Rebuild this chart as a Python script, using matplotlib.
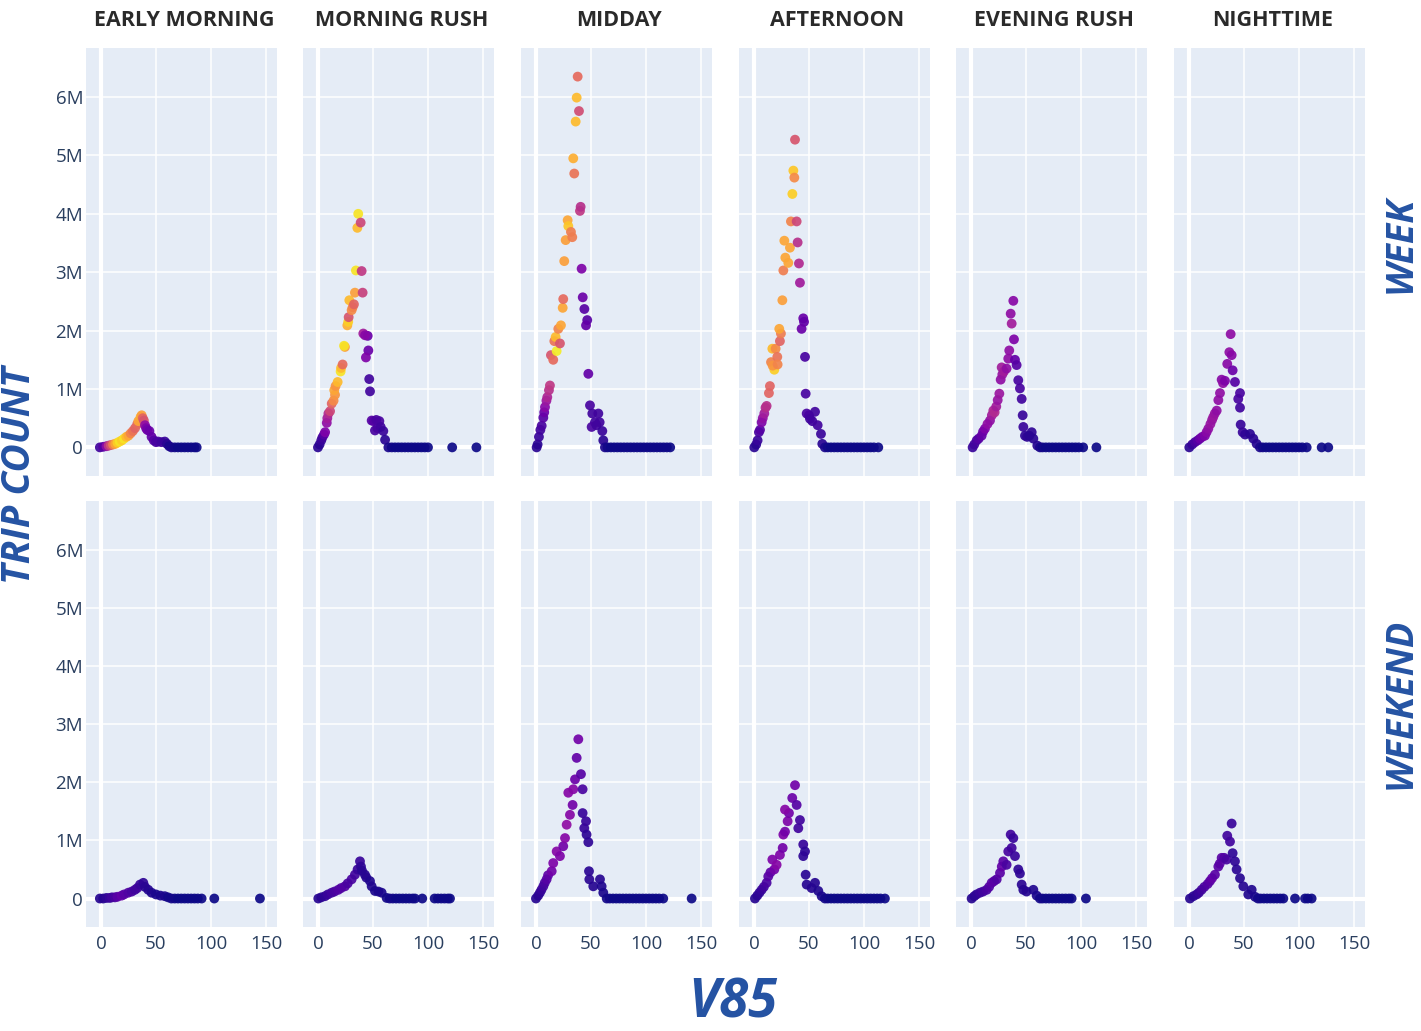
import matplotlib
matplotlib.use("Agg")
import matplotlib.pyplot as plt

PERIODS = ["EARLY MORNING", "MORNING RUSH", "MIDDAY", "AFTERNOON", "EVENING RUSH", "NIGHTTIME"]
DAY_TYPES = ["WEEK", "WEEKEND"]
X_TICKS = [0, 50, 100, 150]
Y_TICKS = [0, 1, 2, 3, 4, 5, 6]
Y_TICK_LABELS = ["0", "1M", "2M", "3M", "4M", "5M", "6M"]

# ---------------- WEEK ----------------
WEEK_EARLY_V85 = [-1, 2, 5, 7, 9, 11, 13, 15, 17, 19, 21, 23, 25, 27, 29, 31, 33, 34, 36, 37, 38, 39, 40, 41, 42, 44, 46, 48, 50, 52, 55, 58, 60, 62,
                  64, 67, 70, 73, 76, 79, 82, 85, 87]
WEEK_EARLY_COUNT = [0, 0.01, 0.02, 0.03, 0.04, 0.05, 0.06, 0.08, 0.1, 0.12, 0.15, 0.18, 0.2, 0.24, 0.28, 0.33, 0.4, 0.45, 0.52, 0.55, 0.5, 0.46, 0.38, 0.33, 0.3, 0.28, 0.18, 0.12, 0.09, 0.1, 0.09, 0.1, 0.06, 0.02,
                    0, 0, 0, 0, 0, 0, 0, 0, 0]
WEEK_EARLY_SHADE = [0.1, 0.15, 0.3, 0.45, 0.55, 0.7, 0.8, 0.9, 0.95, 0.9, 0.95, 0.85, 0.8, 0.7, 0.65, 0.6, 0.62, 0.8, 0.82, 0.78, 0.6, 0.55, 0.3, 0.25, 0.22, 0.2, 0.18, 0.15, 0.12, 0.12, 0.1, 0.08, 0.05, 0.02,
                    0.02, 0.01, 0, 0, 0, 0, 0, 0, 0]

WEEK_MORNING_V85 = [0, 1.5, 3, 4, 5.5, 6.5, 8, 8.5, 9.5, 11, 12.5, 14.2, 15.5, 14.8, 16, 17.9, 20.6, 21, 22.4, 24.5, 23.7, 26.7, 27.5, 27.9, 28.5, 30.6, 31.5, 32.7, 33.6, 34.5, 35.8, 36.6, 38.8, 39.7, 40.6, 41.2, 45.2, 42.8, 45.8, 43.6, 46.6, 47.3, 48.8, 50.5, 53, 55.8, 51.8, 54, 57, 59.4, 61,
                    64, 67, 70, 73, 76, 79, 82, 85, 88, 91, 94, 97, 100, 122, 144]
WEEK_MORNING_COUNT = [0, 0.05, 0.12, 0.17, 0.22, 0.26, 0.42, 0.5, 0.58, 0.62, 0.75, 0.8, 0.9, 0.98, 1.05, 1.12, 1.3, 1.36, 1.42, 1.72, 1.74, 2.09, 2.15, 2.23, 2.52, 2.35, 2.4, 2.45, 2.65, 3.03, 3.76, 4.0, 3.85, 3.02, 2.65, 1.95, 1.91, 1.92, 1.66, 1.54, 1.17, 0.96, 0.46, 0.45, 0.47, 0.45, 0.29, 0.33, 0.35, 0.28, 0.13,
                      0, 0, 0, 0, 0, 0, 0, 0, 0, 0, 0, 0, 0, 0, 0]
WEEK_MORNING_SHADE = [0.05, 0.05, 0.08, 0.1, 0.15, 0.25, 0.3, 0.35, 0.4, 0.5, 0.6, 0.72, 0.75, 0.8, 0.75, 0.85, 0.95, 0.85, 0.62, 0.78, 0.95, 0.82, 0.9, 0.55, 0.85, 0.72, 0.7, 0.6, 0.78, 0.95, 0.85, 0.95, 0.5, 0.45, 0.48, 0.35, 0.2, 0.28, 0.2, 0.25, 0.1, 0.1, 0.15, 0.15, 0.12, 0.12, 0.12, 0.12, 0.1, 0.08, 0.05,
                      0.02, 0.01, 0, 0, 0, 0, 0, 0, 0, 0, 0, 0, 0, 0, 0]

WEEK_MIDDAY_V85 = [0.6, 1.5, 2.7, 4, 5.2, 6.7, 7.5, 8.2, 9.5, 10.3, 11.8, 12.7, 13.6, 15.7, 16.7, 18.8, 17.9, 20.3, 21.8, 22.7, 24.3, 24.8, 25.7, 27, 28.8, 29.4, 31.8, 33, 33.9, 34.8, 36.1, 37, 37.9, 39.1, 40, 40.6, 41.5, 42.5, 44, 46.6, 45.5, 47.6, 49.1, 51.2, 56.7, 53.6, 57.9, 50.6, 55, 60.3, 61.2,
                   62.7, 65, 68, 71, 74, 77, 80, 83, 86, 89, 92, 95, 98, 101, 104, 107, 110, 113, 116, 119, 122]
WEEK_MIDDAY_COUNT = [0, 0.05, 0.18, 0.3, 0.37, 0.51, 0.6, 0.69, 0.8, 0.86, 0.98, 1.06, 1.58, 1.5, 1.82, 1.65, 1.89, 2.03, 1.78, 2.09, 2.39, 2.54, 3.19, 3.55, 3.89, 3.79, 3.69, 3.6, 4.95, 4.69, 5.58, 5.99, 6.35, 5.76, 4.05, 4.12, 3.06, 2.57, 2.37, 2.18, 2.09, 1.26, 0.72, 0.58, 0.58, 0.43, 0.43, 0.35, 0.38, 0.28, 0.12,
                     0, 0, 0, 0, 0, 0, 0, 0, 0, 0, 0, 0, 0, 0, 0, 0, 0, 0, 0, 0, 0]
WEEK_MIDDAY_SHADE = [0.05, 0.05, 0.08, 0.1, 0.12, 0.15, 0.2, 0.28, 0.33, 0.38, 0.42, 0.45, 0.55, 0.62, 0.65, 0.97, 0.85, 0.7, 0.55, 0.8, 0.8, 0.62, 0.78, 0.78, 0.8, 0.88, 0.68, 0.68, 0.82, 0.65, 0.85, 0.85, 0.62, 0.52, 0.45, 0.42, 0.25, 0.2, 0.15, 0.15, 0.18, 0.18, 0.12, 0.1, 0.1, 0.1, 0.1, 0.12, 0.1, 0.08, 0.05,
                     0.02, 0.01, 0, 0, 0, 0, 0, 0, 0, 0, 0, 0, 0, 0, 0, 0, 0, 0, 0, 0, 0]

WEEK_AFTERNOON_V85 = [0.3, 2, 3.3, 4.5, 5.5, 7, 8, 9.4, 10.5, 11.5, 13.6, 14.5, 15.5, 16.7, 18.5, 17, 19.7, 21.2, 21.5, 23.6, 24.5, 23, 25.8, 26.7, 28.5, 31.2, 27.6, 32.7, 33.6, 34.9, 35.8, 36.7, 37.3, 38.8, 39.7, 40.9, 41.8, 44.8, 45.5, 43.3, 46.4, 47, 47.9, 50, 55.5, 50.9, 53, 57.9, 60.9, 62.1,
                      64.5, 67, 70, 73, 76, 79, 82, 85, 88, 91, 94, 97, 100, 103, 106, 109, 113]
WEEK_AFTERNOON_COUNT = [0, 0.05, 0.12, 0.26, 0.3, 0.43, 0.5, 0.58, 0.68, 0.71, 0.93, 1.05, 1.46, 1.69, 1.33, 1.4, 1.69, 1.55, 1.42, 1.82, 1.95, 2.03, 2.52, 3.03, 3.25, 3.16, 3.54, 3.42, 3.87, 4.34, 4.74, 4.62, 5.27, 3.87, 3.51, 3.15, 2.82, 2.21, 2.15, 2.03, 1.55, 0.92, 0.58, 0.55, 0.61, 0.49, 0.45, 0.38, 0.23, 0.06,
                        0, 0, 0, 0, 0, 0, 0, 0, 0, 0, 0, 0, 0, 0, 0, 0, 0]
WEEK_AFTERNOON_SHADE = [0.05, 0.05, 0.08, 0.12, 0.15, 0.25, 0.3, 0.35, 0.4, 0.42, 0.6, 0.6, 0.7, 0.85, 0.9, 0.75, 0.72, 0.65, 0.7, 0.6, 0.68, 0.8, 0.78, 0.68, 0.8, 0.8, 0.8, 0.8, 0.7, 0.9, 0.88, 0.72, 0.55, 0.5, 0.42, 0.4, 0.35, 0.2, 0.18, 0.2, 0.12, 0.12, 0.12, 0.12, 0.1, 0.1, 0.1, 0.1, 0.08, 0.05,
                        0.02, 0.01, 0, 0, 0, 0, 0, 0, 0, 0, 0, 0, 0, 0, 0, 0, 0]

WEEK_EVENING_V85 = [1.5, 3, 5.2, 7, 9.7, 11, 12.7, 15, 17.3, 19, 20.3, 21.5, 23, 24.3, 25.8, 27, 28.5, 27.9, 30, 32.4, 33.9, 34.8, 36.1, 37, 38.5, 39.1, 40, 41.5, 43, 44.5, 46.1, 47, 47.6, 49.1, 51, 55.2, 53, 56.7, 60.3,
                    62.7, 65, 68, 71, 74, 77, 80, 83, 86, 89, 92, 95, 98, 102, 114]
WEEK_EVENING_COUNT = [0, 0.05, 0.12, 0.15, 0.2, 0.27, 0.32, 0.4, 0.46, 0.55, 0.63, 0.6, 0.7, 0.81, 0.92, 1.16, 1.25, 1.37, 1.3, 1.35, 1.52, 1.66, 2.29, 2.12, 2.51, 1.85, 1.5, 1.41, 1.15, 1.01, 0.83, 0.55, 0.35, 0.2, 0.18, 0.26, 0.2, 0.15, 0.03,
                      0, 0, 0, 0, 0, 0, 0, 0, 0, 0, 0, 0, 0, 0, 0]
WEEK_EVENING_SHADE = [0.08, 0.1, 0.12, 0.15, 0.18, 0.2, 0.25, 0.3, 0.3, 0.35, 0.38, 0.4, 0.35, 0.32, 0.33, 0.3, 0.32, 0.35, 0.35, 0.3, 0.3, 0.3, 0.3, 0.35, 0.28, 0.25, 0.18, 0.15, 0.12, 0.12, 0.1, 0.08, 0.08, 0.06, 0.06, 0.06, 0.05, 0.05, 0.04,
                      0.02, 0.01, 0, 0, 0, 0, 0, 0, 0, 0, 0, 0, 0, 0, 0]

WEEK_NIGHT_V85 = [0.3, 3, 5.5, 8, 10, 12, 14.5, 16, 17.6, 19.5, 21, 22.1, 23.5, 25.2, 26.7, 28.2, 29.7, 31, 32.7, 34.8, 36.7, 38.8, 37.9, 39.7, 41.8, 44.8, 46.4, 46.4, 47, 48.8, 51, 55.5, 58.5, 61.5,
                  64.5, 67, 70, 73, 76, 79, 82, 85, 88, 91, 94, 97, 100, 103, 107, 120.6, 126.6]
WEEK_NIGHT_COUNT = [0, 0.05, 0.09, 0.12, 0.15, 0.18, 0.2, 0.26, 0.32, 0.4, 0.47, 0.52, 0.58, 0.63, 0.81, 0.93, 1.16, 1.1, 1.14, 1.43, 1.63, 1.58, 1.94, 1.32, 1.12, 0.83, 0.93, 0.68, 0.39, 0.26, 0.22, 0.23, 0.15, 0.06,
                    0, 0, 0, 0, 0, 0, 0, 0, 0, 0, 0, 0, 0, 0, 0, 0, 0]
WEEK_NIGHT_SHADE = [0.05, 0.08, 0.12, 0.15, 0.2, 0.22, 0.25, 0.28, 0.3, 0.32, 0.32, 0.33, 0.32, 0.3, 0.3, 0.3, 0.28, 0.3, 0.25, 0.28, 0.3, 0.28, 0.3, 0.2, 0.15, 0.12, 0.12, 0.1, 0.08, 0.08, 0.06, 0.05, 0.05, 0.04,
                    0.02, 0.01, 0, 0, 0, 0, 0, 0, 0, 0, 0, 0, 0, 0, 0, 0, 0]

# ---------------- WEEKEND ----------------
WKND_EARLY_V85 = [-1, 2, 5, 8, 10, 12.7, 15, 18.8, 21, 24.8, 28, 30.9, 33, 35.5, 38.5, 40, 43, 46, 50, 54, 58, 61,
                  64, 67, 70, 73, 76, 79, 82, 85, 88, 91.5, 103, 144.5]
WKND_EARLY_COUNT = [0, 0, 0.01, 0.01, 0.02, 0.02, 0.03, 0.05, 0.07, 0.1, 0.12, 0.15, 0.18, 0.24, 0.27, 0.2, 0.15, 0.1, 0.07, 0.05, 0.04, 0.02,
                    0, 0, 0, 0, 0, 0, 0, 0, 0, 0, 0, 0]
WKND_EARLY_SHADE = [0.04, 0.04, 0.06, 0.08, 0.1, 0.12, 0.16, 0.18, 0.16, 0.14, 0.12, 0.1, 0.1, 0.08, 0.06, 0.05, 0.04, 0.03, 0.02, 0.02, 0.02, 0.01,
                    0.01, 0.01, 0, 0, 0, 0, 0, 0, 0, 0, 0, 0]

WKND_MORNING_V85 = [0.3, 3, 6.4, 9, 12.4, 15, 18.5, 21, 24.5, 27, 30.6, 33.6, 36, 38.2, 39.1, 40, 42.7, 44, 47.3, 48.8, 51.8, 55, 57.9, 62.4,
                    65.2, 68, 71, 74, 77, 80, 83, 86, 88.2, 94.8, 106, 109, 112, 115, 118, 120]
WKND_MORNING_COUNT = [0, 0.02, 0.04, 0.07, 0.1, 0.12, 0.15, 0.18, 0.21, 0.26, 0.33, 0.41, 0.5, 0.64, 0.55, 0.48, 0.41, 0.36, 0.3, 0.21, 0.13, 0.12, 0.1, 0.01,
                      0, 0, 0, 0, 0, 0, 0, 0, 0, 0, 0, 0, 0, 0, 0, 0]
WKND_MORNING_SHADE = [0.04, 0.05, 0.06, 0.08, 0.1, 0.12, 0.14, 0.14, 0.14, 0.12, 0.12, 0.1, 0.08, 0.08, 0.06, 0.05, 0.04, 0.04, 0.03, 0.03, 0.02, 0.02, 0.02, 0.01,
                      0.01, 0.01, 0, 0, 0, 0, 0, 0, 0, 0, 0, 0, 0, 0, 0, 0]

WKND_MIDDAY_V85 = [0, 2, 3.6, 5, 6.7, 8, 9.7, 11, 14.3, 15.7, 18.8, 21.8, 24.8, 26.4, 27.9, 29.4, 30.9, 33.3, 33.9, 35.5, 37, 38.5, 40.9, 42.4, 42.4, 45.5, 43.9, 46, 47.6, 48.2, 48.5, 52.1, 58.2, 59.7, 61.2,
                   64.3, 67, 70, 73, 76, 79, 82, 85, 88, 91, 94, 97, 100, 103, 106, 109, 112, 115.7, 141.5]
WKND_MIDDAY_COUNT = [0, 0.05, 0.1, 0.15, 0.21, 0.27, 0.33, 0.4, 0.47, 0.61, 0.81, 0.73, 0.9, 1.04, 1.27, 1.82, 1.44, 1.61, 1.88, 2.05, 2.42, 2.74, 2.14, 1.88, 1.47, 1.33, 1.21, 1.1, 0.97, 0.47, 0.33, 0.21, 0.33, 0.21, 0.1,
                     0, 0, 0, 0, 0, 0, 0, 0, 0, 0, 0, 0, 0, 0, 0, 0, 0, 0, 0]
WKND_MIDDAY_SHADE = [0.04, 0.05, 0.06, 0.08, 0.1, 0.12, 0.15, 0.17, 0.22, 0.25, 0.27, 0.25, 0.22, 0.27, 0.3, 0.27, 0.27, 0.22, 0.27, 0.2, 0.18, 0.22, 0.15, 0.12, 0.08, 0.08, 0.08, 0.06, 0.06, 0.05, 0.05, 0.04, 0.04, 0.03, 0.02,
                     0.01, 0.01, 0, 0, 0, 0, 0, 0, 0, 0, 0, 0, 0, 0, 0, 0, 0, 0, 0]

WKND_AFTERNOON_V85 = [0.9, 3, 5, 7, 9, 11.5, 13, 15, 18.5, 16.7, 20.6, 23.6, 26.1, 26.7, 28.2, 30.6, 31.8, 28.2, 34.8, 37.3, 38.8, 41.8, 40.3, 44.8, 46.4, 44.8, 47, 47.9, 52.4, 55.5, 58.5, 61.5,
                      64.5, 67, 70, 73, 76, 79, 82, 85, 88, 91, 94, 97, 100, 103, 106, 109, 112, 115, 119]
WKND_AFTERNOON_COUNT = [0, 0.05, 0.1, 0.15, 0.2, 0.27, 0.38, 0.45, 0.5, 0.67, 0.58, 0.75, 0.87, 1.1, 1.15, 1.33, 1.47, 1.53, 1.73, 1.95, 1.61, 1.35, 1.21, 0.93, 0.81, 0.73, 0.41, 0.24, 0.18, 0.27, 0.13, 0.04,
                        0, 0, 0, 0, 0, 0, 0, 0, 0, 0, 0, 0, 0, 0, 0, 0, 0, 0, 0]
WKND_AFTERNOON_SHADE = [0.04, 0.05, 0.06, 0.08, 0.1, 0.12, 0.15, 0.17, 0.22, 0.25, 0.27, 0.25, 0.22, 0.25, 0.22, 0.25, 0.22, 0.27, 0.2, 0.22, 0.15, 0.1, 0.1, 0.08, 0.06, 0.06, 0.05, 0.04, 0.04, 0.04, 0.03, 0.02,
                        0.01, 0.01, 0, 0, 0, 0, 0, 0, 0, 0, 0, 0, 0, 0, 0, 0, 0, 0, 0]

WKND_EVENING_V85 = [0.6, 3, 5, 8.2, 11, 14.3, 16.5, 18.8, 21, 23.4, 26.4, 28, 29.4, 32.4, 33.9, 37, 36.1, 38.5, 40, 43, 44.5, 46.1, 47.6, 50.5, 56.7, 59.7,
                    62.7, 65, 68, 71, 74, 77, 80, 83, 86, 89, 91.5, 104.5]
WKND_EVENING_COUNT = [0, 0.04, 0.07, 0.1, 0.12, 0.15, 0.2, 0.27, 0.3, 0.33, 0.44, 0.55, 0.64, 0.58, 0.81, 0.87, 1.1, 1.04, 0.73, 0.5, 0.43, 0.24, 0.15, 0.12, 0.15, 0.05,
                      0, 0, 0, 0, 0, 0, 0, 0, 0, 0, 0, 0]
WKND_EVENING_SHADE = [0.04, 0.05, 0.06, 0.08, 0.1, 0.12, 0.14, 0.16, 0.16, 0.14, 0.16, 0.18, 0.16, 0.12, 0.12, 0.1, 0.1, 0.08, 0.08, 0.06, 0.06, 0.05, 0.04, 0.04, 0.03, 0.02,
                      0.01, 0.01, 0, 0, 0, 0, 0, 0, 0, 0, 0, 0]

WKND_NIGHT_V85 = [0.9, 4, 7, 9, 11.5, 14, 17, 19.1, 21, 23.6, 26.7, 28, 29.7, 32, 34.2, 34.8, 37.3, 38.8, 39.7, 41.8, 43.3, 46.4, 49.4, 53.9, 57, 60,
                  62.7, 65, 68, 71, 74, 77, 80, 83, 85.8, 96.4, 105.5, 108, 111.5]
WKND_NIGHT_COUNT = [0, 0.04, 0.07, 0.1, 0.15, 0.2, 0.25, 0.3, 0.35, 0.41, 0.55, 0.6, 0.7, 0.7, 0.67, 1.08, 0.98, 1.29, 0.78, 0.64, 0.5, 0.35, 0.21, 0.07, 0.15, 0.03,
                    0, 0, 0, 0, 0, 0, 0, 0, 0, 0, 0, 0, 0]
WKND_NIGHT_SHADE = [0.04, 0.05, 0.06, 0.08, 0.1, 0.12, 0.14, 0.16, 0.18, 0.16, 0.16, 0.16, 0.16, 0.14, 0.12, 0.1, 0.1, 0.08, 0.06, 0.06, 0.05, 0.04, 0.04, 0.03, 0.03, 0.02,
                    0.01, 0.01, 0, 0, 0, 0, 0, 0, 0, 0, 0, 0, 0]

PANEL_DATA = {
    ("WEEK", "EARLY MORNING"): (WEEK_EARLY_V85, WEEK_EARLY_COUNT, WEEK_EARLY_SHADE),
    ("WEEK", "MORNING RUSH"): (WEEK_MORNING_V85, WEEK_MORNING_COUNT, WEEK_MORNING_SHADE),
    ("WEEK", "MIDDAY"): (WEEK_MIDDAY_V85, WEEK_MIDDAY_COUNT, WEEK_MIDDAY_SHADE),
    ("WEEK", "AFTERNOON"): (WEEK_AFTERNOON_V85, WEEK_AFTERNOON_COUNT, WEEK_AFTERNOON_SHADE),
    ("WEEK", "EVENING RUSH"): (WEEK_EVENING_V85, WEEK_EVENING_COUNT, WEEK_EVENING_SHADE),
    ("WEEK", "NIGHTTIME"): (WEEK_NIGHT_V85, WEEK_NIGHT_COUNT, WEEK_NIGHT_SHADE),
    ("WEEKEND", "EARLY MORNING"): (WKND_EARLY_V85, WKND_EARLY_COUNT, WKND_EARLY_SHADE),
    ("WEEKEND", "MORNING RUSH"): (WKND_MORNING_V85, WKND_MORNING_COUNT, WKND_MORNING_SHADE),
    ("WEEKEND", "MIDDAY"): (WKND_MIDDAY_V85, WKND_MIDDAY_COUNT, WKND_MIDDAY_SHADE),
    ("WEEKEND", "AFTERNOON"): (WKND_AFTERNOON_V85, WKND_AFTERNOON_COUNT, WKND_AFTERNOON_SHADE),
    ("WEEKEND", "EVENING RUSH"): (WKND_EVENING_V85, WKND_EVENING_COUNT, WKND_EVENING_SHADE),
    ("WEEKEND", "NIGHTTIME"): (WKND_NIGHT_V85, WKND_NIGHT_COUNT, WKND_NIGHT_SHADE),
}

# ---------------- figure ----------------
W, H = 1421, 1031
plt.rcParams['font.family'] = ['Open Sans', 'DejaVu Sans']
fig = plt.figure(figsize=(W / 100, H / 100), dpi=100)
fig.patch.set_facecolor('white')

BG = '#E5ECF6'
TICK_COLOR = '#2a3f5f'
LABEL_BLUE = '#2553A3'
COL_LEFT = [86, 303, 521, 739, 956, 1174]
COL_W = 191
ROW_TOP = [48, 501]
ROW_H = [428, 426]
cmap = plt.get_cmap('plasma')

for r, day in enumerate(DAY_TYPES):
    for c, period in enumerate(PERIODS):
        left = COL_LEFT[c] / W
        bottom = 1 - (ROW_TOP[r] + ROW_H[r]) / H
        ax = fig.add_axes([left, bottom, COL_W / W, ROW_H[r] / H])
        ax.set_facecolor(BG)
        ax.set_xlim(-13.6, 160)
        ax.set_ylim(-0.49, 6.84)
        ax.set_xticks(X_TICKS)
        ax.set_yticks(Y_TICKS)
        ax.grid(True, color='white', linewidth=1.1)
        ax.set_axisbelow(True)
        ax.axhline(0, color='white', linewidth=3, zorder=1)
        ax.axvline(0, color='white', linewidth=3, zorder=1)
        for s in ax.spines.values():
            s.set_visible(False)
        ax.tick_params(length=0, labelsize=13.5, labelcolor=TICK_COLOR, pad=4)
        if c == 0:
            ax.set_yticklabels(Y_TICK_LABELS)
            ax.tick_params(axis='y', pad=2)
        else:
            ax.set_yticklabels([])
        if r == 1:
            ax.set_xticklabels([str(t) for t in X_TICKS])
            ax.tick_params(axis='x', pad=6)
        else:
            ax.set_xticklabels([])
        v, cnt, shade = PANEL_DATA[(day, period)]
        ax.scatter(v, cnt, c=shade, cmap=cmap, vmin=0, vmax=1, s=50,
                   alpha=0.92, linewidths=0, zorder=3, clip_on=True)
        if r == 0:
            fig.text((COL_LEFT[c] + COL_W / 2 + 3) / W, 1 - 20 / H, period,
                     ha='center', va='center', fontsize=15.5, fontweight='bold',
                     color='#2a2a2a')

fig.text(20 / W, 1 - 475 / H, 'TRIP COUNT', rotation=90, ha='center', va='center',
         fontsize=28, fontweight='bold', fontstyle='italic', color=LABEL_BLUE)
fig.text(733 / W, 1 - 1004 / H, 'V85', ha='center', va='center',
         fontsize=38, fontweight='bold', fontstyle='italic', color=LABEL_BLUE)
fig.text(1401 / W, 1 - 244 / H, 'WEEK', rotation=90, ha='center', va='center',
         fontsize=27, fontweight='bold', fontstyle='italic', color=LABEL_BLUE)
fig.text(1401 / W, 1 - 703 / H, 'WEEKEND', rotation=90, ha='center', va='center',
         fontsize=27, fontweight='bold', fontstyle='italic', color=LABEL_BLUE)

fig.savefig('out.png', dpi=100)
